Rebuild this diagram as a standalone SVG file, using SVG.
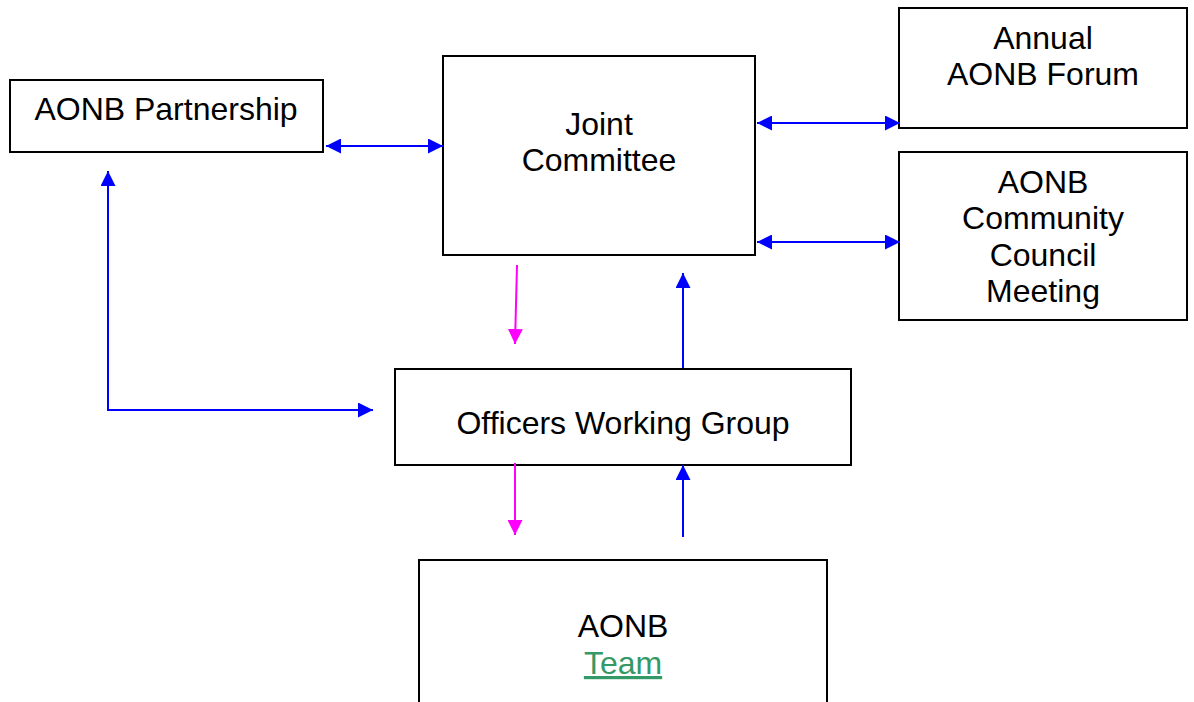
<svg xmlns="http://www.w3.org/2000/svg" width="1194" height="702" viewBox="0 0 1194 702">
<style>
.box{fill:#fff;stroke:#000;stroke-width:2}
.t{font-family:"Liberation Sans",Arial,sans-serif;font-size:32px;fill:#000;text-anchor:middle}
.blue{stroke:#0000ff;stroke-width:2;fill:none}
.mag{stroke:#ff00ff;stroke-width:2;fill:none}
</style>
<defs>
<marker id="ab" viewBox="0 0 10 10" refX="10" refY="5" markerWidth="7.5" markerHeight="7.5" orient="auto-start-reverse" markerUnits="strokeWidth"><path d="M0,0 L10,5 L0,10 z" fill="#0000ff"/></marker>
<marker id="am" viewBox="0 0 10 10" refX="10" refY="5" markerWidth="7.5" markerHeight="7.5" orient="auto-start-reverse" markerUnits="strokeWidth"><path d="M0,0 L10,5 L0,10 z" fill="#ff00ff"/></marker>
</defs>
<rect width="1194" height="702" fill="#fff"/>
<g id="partnership"><rect class="box" x="10" y="80" width="313" height="72"/><text class="t" x="166" y="120">AONB Partnership</text></g>
<g id="joint"><rect class="box" x="443" y="56" width="312" height="199"/><text class="t" x="599" y="135">Joint</text><text class="t" x="599" y="171">Committee</text></g>
<g id="forum"><rect class="box" x="899" y="8" width="288" height="120"/><text class="t" x="1043" y="49">Annual</text><text class="t" x="1043" y="85">AONB Forum</text></g>
<g id="community"><rect class="box" x="899" y="152" width="288" height="168"/><text class="t" x="1043" y="193">AONB</text><text class="t" x="1043" y="229">Community</text><text class="t" x="1043" y="266">Council</text><text class="t" x="1043" y="302">Meeting</text></g>
<g id="officers"><rect class="box" x="395" y="369" width="456" height="96"/><text class="t" x="623" y="434">Officers Working Group</text></g>
<g id="team"><rect class="box" x="419" y="560" width="408" height="150"/><text class="t" x="623" y="637">AONB</text><text class="t" x="623" y="674" style="fill:#339966;text-decoration:underline">Team</text></g>
<g id="connectors">
<line class="blue" x1="326" y1="146" x2="443" y2="146" marker-start="url(#ab)" marker-end="url(#ab)"/>
<line class="blue" x1="757" y1="123" x2="900" y2="123" marker-start="url(#ab)" marker-end="url(#ab)"/>
<line class="blue" x1="757" y1="242" x2="900" y2="242" marker-start="url(#ab)" marker-end="url(#ab)"/>
<line class="mag" x1="517" y1="265" x2="515" y2="344" marker-end="url(#am)"/>
<line class="blue" x1="683" y1="368" x2="683" y2="273" marker-end="url(#ab)"/>
<polyline class="blue" points="108,171 108,410 373,410" marker-start="url(#ab)" marker-end="url(#ab)"/>
<line class="mag" x1="515" y1="463" x2="515" y2="535" marker-end="url(#am)"/>
<line class="blue" x1="683" y1="537" x2="683" y2="465" marker-end="url(#ab)"/>
</g>
</svg>
